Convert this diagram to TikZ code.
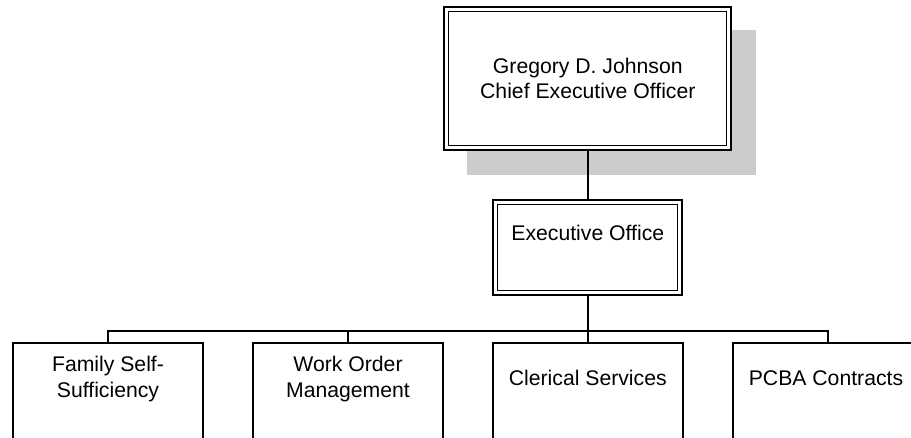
\documentclass[tikz,border=0pt]{standalone}
\usepackage{fontspec}
\setmainfont{Liberation Sans}
\usetikzlibrary{calc,backgrounds}
\definecolor{shadowgray}{RGB}{204,204,204}
\begin{document}
\begin{tikzpicture}[x=0.75pt,y=-0.75pt,
  every node/.style={font=\fontsize{15.9}{19.1}\selectfont, inner sep=0pt, outer sep=0pt},
  box/.style={draw, line width=1.5pt, fill=white, align=center},
  link/.style={line width=1.5pt},
  innerline/.style={line width=0.75pt},
  label/.style={align=center}]
\useasboundingbox (0,0) rectangle (911,437);
\clip (0,0) rectangle (911,437);

% CEO box with shadow and double border
\node[box, minimum width=287*0.75pt, minimum height=143*0.75pt] (ceo) at (587.8,78.5)
  {Gregory D. Johnson\\Chief Executive Officer};
\draw[innerline] ($(ceo.north west)+(4.5,4.5)$) rectangle ($(ceo.south east)+(-4.5,-4.5)$);
\begin{scope}[on background layer]
  \fill[shadowgray] ($(ceo.north west)+(23,23)$) rectangle ($(ceo.south east)+(25,25)$);
\end{scope}

% Executive office
\node[box, minimum width=189*0.75pt, minimum height=95*0.75pt,
      text height=11.4pt, text depth=21.6pt] (exec) at (587.8,247.5) {Executive Office};
\draw[innerline] ($(exec.north west)+(4.5,4.5)$) rectangle ($(exec.south east)+(-4.5,-4.5)$);

% Bottom row
\node[box, minimum width=190*0.75pt, minimum height=130*0.75pt] (b1) at (108,408.3) {};
\node[box, minimum width=190*0.75pt, minimum height=130*0.75pt] (b2) at (348,408.3) {};
\node[box, minimum width=190*0.75pt, minimum height=130*0.75pt] (b3) at (587.8,408.3) {};
\node[box, minimum width=190*0.75pt, minimum height=130*0.75pt] (b4) at (828,408.3) {};

\node[label, anchor=north] (t1) at (108,356.5) {Family Self-\\Sufficiency};
\node[label, anchor=north] (t2) at (348,356.5) {Work Order\\Management};
\node[label, anchor=base] (t3) at (587.8,385) {Clerical Services};
\node[label, anchor=base] (t4) at (826,385) {PCBA Contracts};

% Connectors
\coordinate (j) at ($(exec.south)+(0,36)$);
\draw[link] (ceo.south) -- (exec.north);
\draw[link] (exec.south) -- (j);
\draw[link] (b1.north) |- (j) -| (b4.north);
\draw[link] (b2.north) -- (b2.north |- j);
\draw[link] (b3.north) -- (j);
\end{tikzpicture}
\end{document}
